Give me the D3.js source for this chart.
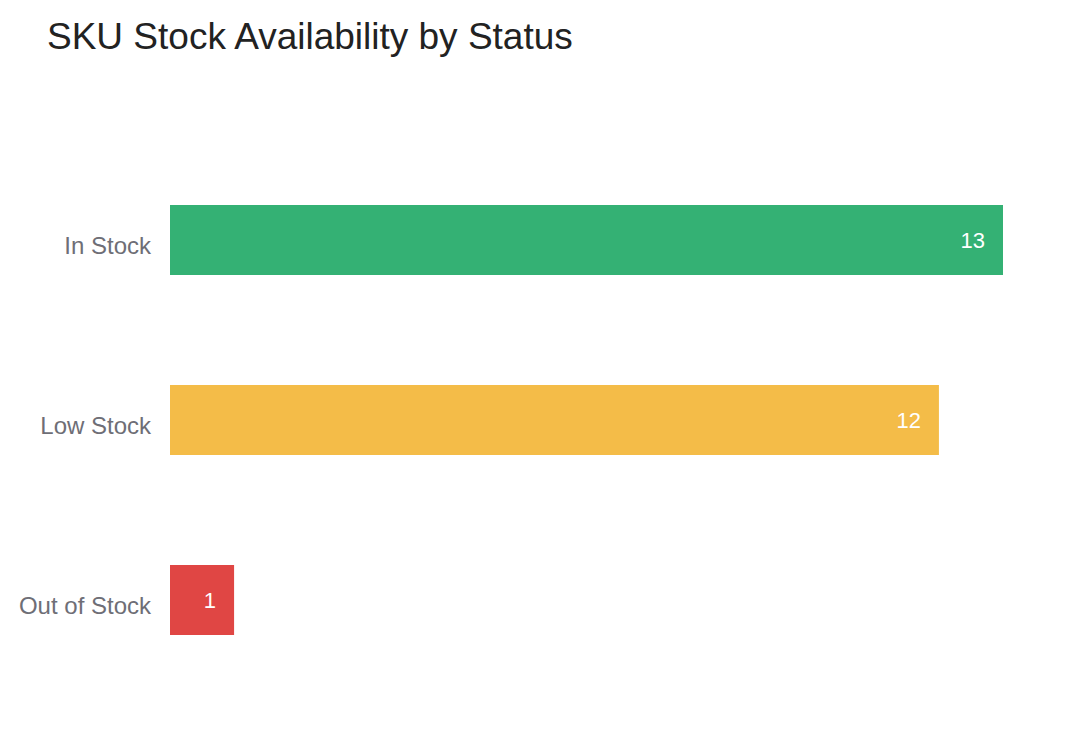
<!DOCTYPE html>
<html lang="en">
    <head>
        <meta charset="UTF-8" />
        <style>
            body { margin: 0; background: #fff; }
            text { font-family: "Liberation Sans", Arial, sans-serif; }
        </style>
    </head>
    <body>
        <svg id="chart" width="1084" height="745"></svg>
        <script src="https://d3js.org/d3.v7.min.js"></script>
        <script>
            // chart data
            var statuses = ["In Stock", "Low Stock", "Out of Stock"]
            var skuCounts = [13, 12, 1]
            var barColors = ["#34b174", "#f4bc48", "#e04644"]

            var svg = d3.select("#chart")

            svg.append("text")
                .attr("x", 47)
                .attr("y", 49)
                .attr("font-size", "37px")
                .attr("fill", "#222")
                .text("SKU Stock Availability by Status")

            var x = d3.scaleLinear()
                .domain([0, 13])
                .range([170, 1003])

            var y = d3.scaleBand()
                .domain(statuses)
                .range([150, 690])
                .paddingInner(110 / 180)
                .paddingOuter(55 / 180)

            var rows = statuses.map(function (s, i) {
                return { status: s, count: skuCounts[i], color: barColors[i] }
            })

            svg.append("g")
                .selectAll("rect")
                .data(rows)
                .enter().append("rect")
                    .attr("x", x(0))
                    .attr("y", d => y(d.status))
                    .attr("width", d => x(d.count) - x(0))
                    .attr("height", y.bandwidth())
                    .attr("fill", d => d.color)

            // value labels inside the bar end
            svg.append("g")
                .selectAll("text")
                .data(rows)
                .enter().append("text")
                    .attr("x", d => x(d.count) - 18)
                    .attr("y", d => y(d.status) + y.bandwidth() / 2)
                    .attr("dy", "0.36em")
                    .attr("text-anchor", "end")
                    .attr("font-size", "22px")
                    .attr("fill", "#fff")
                    .text(d => d.count)

            // category axis, no line or ticks
            var yAxis = svg.append("g")
                .attr("transform", "translate(170,0)")
                .call(d3.axisLeft(y).tickSize(0).tickPadding(19))
            yAxis.select(".domain").remove()
            yAxis.selectAll("text")
                .attr("font-family", "Liberation Sans, Arial, sans-serif")
                .attr("font-size", "24px")
                .attr("fill", "#6e6e76")
                .attr("dy", "0.6em")
        </script>
    </body>
</html>
